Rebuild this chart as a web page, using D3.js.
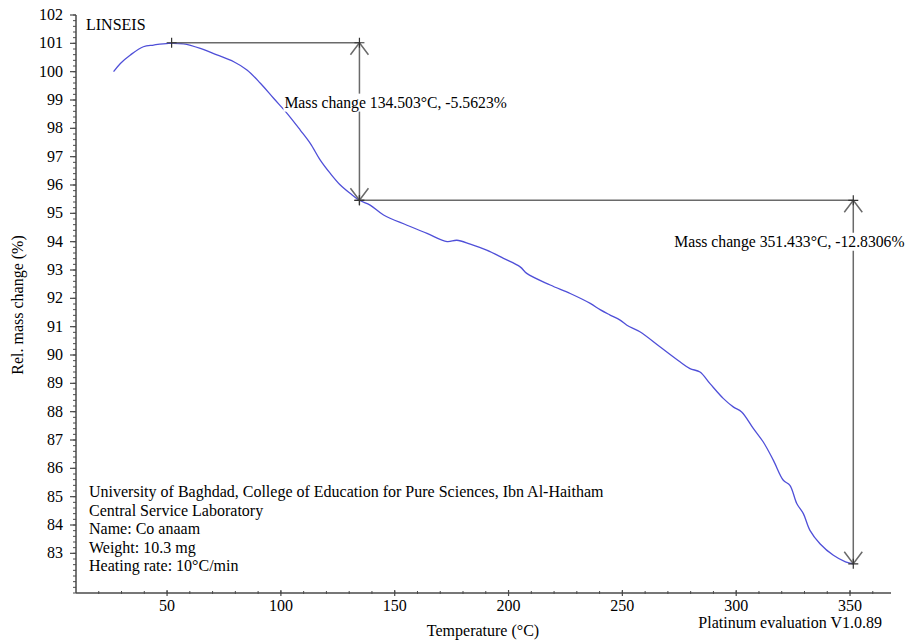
<!DOCTYPE html>
<html>
<head>
<meta charset="utf-8">
<script src="https://cdn.jsdelivr.net/npm/d3@7"></script>
<style>
  html, body { margin: 0; padding: 0; background: #fff; }
  svg { display: block; font-family: "Liberation Serif", "DejaVu Serif", serif; }
</style>
</head>
<body>
<svg id="chart" width="906" height="641"></svg>
<script>
// ---- Data ----
const temperature = [26.5, 29.5, 33.9, 39.6, 44.1, 50.7, 57.3, 64.6, 71.9, 79.3, 85.1, 91.0, 96.8, 102.7, 108.5, 112.9, 117.3, 121.7, 126.1, 130.5, 134.5, 139.2, 145.1, 155.4, 164.2, 173.0, 177.3, 183.2, 190.4, 197.8, 205.1, 208.0, 218.3, 227.1, 235.9, 240.2, 244.6, 249.0, 252.0, 257.7, 266.5, 275.3, 279.7, 284.1, 288.5, 294.3, 298.7, 302.4, 307.5, 311.9, 316.3, 320.7, 323.6, 326.6, 329.5, 332.4, 336.8, 342.7, 348.0, 351.4];
const massChange  = [100.0, 100.29, 100.59, 100.88, 100.94, 101.0, 100.98, 100.82, 100.59, 100.35, 100.06, 99.59, 99.06, 98.53, 97.94, 97.47, 96.88, 96.41, 96.0, 95.70, 95.46, 95.29, 94.94, 94.58, 94.29, 94.0, 94.05, 93.91, 93.70, 93.41, 93.11, 92.88, 92.47, 92.17, 91.82, 91.60, 91.41, 91.23, 91.05, 90.82, 90.29, 89.76, 89.52, 89.40, 88.99, 88.47, 88.17, 87.99, 87.41, 86.93, 86.29, 85.58, 85.40, 84.76, 84.40, 83.81, 83.34, 82.93, 82.70, 82.63];

const yTicks = [83, 84, 85, 86, 87, 88, 89, 90, 91, 92, 93, 94, 95, 96, 97, 98, 99, 100, 101, 102];
const xTicks = [50, 100, 150, 200, 250, 300, 350];

// Evaluation steps: [temperature, mass]
const stepPoints = [[52, 101.02], [134.503, 95.46], [351.433, 82.63]];
const stepLabels = ["Mass change 134.503°C, -5.5623%", "Mass change 351.433°C, -12.8306%"];

const infoLines = [
  "University of Baghdad, College of Education for Pure Sciences, Ibn Al-Haitham",
  "Central Service Laboratory",
  "Name: Co anaam",
  "Weight: 10.3 mg",
  "Heating rate: 10°C/min"
];

// ---- Layout ----
const svg = d3.select("#chart");
const x = d3.scaleLinear().domain([10, 368]).range([76, 891]);
const y = d3.scaleLinear().domain([81.6, 102]).range([593, 15]);
const axisColor = "#4a4a4a";
const annColor = "#6a6a6a";
const fontSize = 16;

// Y axis
const yMinor = d3.range(81.6, 102.0001, 0.2).map(v => +v.toFixed(1));
svg.append("g").selectAll("line").data(yMinor).join("line")
  .attr("x1", x.range()[0] - 3).attr("x2", x.range()[0])
  .attr("y1", d => y(d)).attr("y2", d => y(d))
  .attr("stroke", axisColor).attr("stroke-width", 1);
svg.append("g").selectAll("line").data(yTicks).join("line")
  .attr("x1", x.range()[0] - 6).attr("x2", x.range()[0])
  .attr("y1", d => y(d)).attr("y2", d => y(d))
  .attr("stroke", axisColor).attr("stroke-width", 1.2);
svg.append("g").selectAll("text").data(yTicks).join("text")
  .attr("x", 63).attr("y", d => y(d) + 5)
  .attr("text-anchor", "end").attr("font-size", fontSize)
  .text(d => d);
svg.append("line")
  .attr("x1", x.range()[0]).attr("x2", x.range()[0])
  .attr("y1", y(102)).attr("y2", y.range()[0])
  .attr("stroke", axisColor).attr("stroke-width", 1.5);

// X axis
const xMinor = d3.range(20, 368, 10);
svg.append("g").selectAll("line").data(xMinor).join("line")
  .attr("x1", d => x(d)).attr("x2", d => x(d))
  .attr("y1", y.range()[0] - 2).attr("y2", y.range()[0] + 1)
  .attr("stroke", axisColor).attr("stroke-width", 1);
svg.append("g").selectAll("line").data(xTicks).join("line")
  .attr("x1", d => x(d)).attr("x2", d => x(d))
  .attr("y1", y.range()[0] - 3).attr("y2", y.range()[0] + 3)
  .attr("stroke", axisColor).attr("stroke-width", 1.2);
svg.append("g").selectAll("text").data(xTicks).join("text")
  .attr("x", d => x(d)).attr("y", 611)
  .attr("text-anchor", "middle").attr("font-size", fontSize)
  .text(d => d);
svg.append("line")
  .attr("x1", x.range()[0]).attr("x2", x.range()[1])
  .attr("y1", y.range()[0]).attr("y2", y.range()[0])
  .attr("stroke", axisColor).attr("stroke-width", 1.5);

// Axis titles
svg.append("text").attr("x", 483).attr("y", 636)
  .attr("text-anchor", "middle").attr("font-size", fontSize)
  .text("Temperature (°C)");
svg.append("text").attr("transform", "translate(23,305) rotate(-90)")
  .attr("text-anchor", "middle").attr("font-size", fontSize)
  .text("Rel. mass change (%)");
svg.append("text").attr("x", 882).attr("y", 628)
  .attr("text-anchor", "end").attr("font-size", fontSize)
  .text("Platinum evaluation V1.0.89");
svg.append("text").attr("x", 86).attr("y", 30)
  .attr("font-size", fontSize).text("LINSEIS");

// Info block
svg.append("g").selectAll("text").data(infoLines).join("text")
  .attr("x", 89).attr("y", (d, i) => 497 + i * 18.5)
  .attr("font-size", fontSize).text(d => d);

// Curve
const pts = temperature.map((t, i) => [t, massChange[i]]);
svg.append("path").datum(pts)
  .attr("fill", "none").attr("stroke", "#4f4fd8").attr("stroke-width", 1.3)
  .attr("d", d3.line().x(d => x(d[0])).y(d => y(d[1])).curve(d3.curveCatmullRom));

// Annotations
const ann = svg.append("g").attr("stroke", annColor).attr("stroke-width", 1.5).attr("fill", "none");
function cross(px, py) {
  ann.append("path").attr("stroke", "#333").attr("stroke-width", 1.2)
    .attr("d", `M${px - 5},${py}H${px + 5}M${px},${py - 5}V${py + 5}`);
}
function arrowUp(px, py) {
  ann.append("path").attr("d", `M${px - 9},${py + 12}L${px},${py}L${px + 9},${py + 12}`);
}
function arrowDown(px, py) {
  ann.append("path").attr("d", `M${px - 9},${py - 12}L${px},${py}L${px + 9},${py - 12}`);
}
for (let i = 0; i < stepPoints.length - 1; i++) {
  const [t0, m0] = stepPoints[i];
  const [t1, m1] = stepPoints[i + 1];
  const xa = x(t0), ya = y(m0), xb = x(t1), yb = y(m1);
  ann.append("line").attr("x1", xa).attr("x2", xb).attr("y1", ya).attr("y2", ya);
  ann.append("line").attr("x1", xb).attr("x2", xb).attr("y1", ya).attr("y2", yb);
  arrowUp(xb, ya);
  arrowDown(xb, yb);
  cross(xa, ya);
  cross(xb, ya);
  cross(xb, yb);
}

// Step labels with white background
const labelOffsets = [[-75, 0.38], [-179, 0.114]]; // [dx from line, fraction down the vertical]
stepLabels.forEach((txt, i) => {
  const [t1, m1] = stepPoints[i + 1];
  const m0 = stepPoints[i][1];
  const lx = x(t1) + labelOffsets[i][0];
  const ly = y(m0) + (y(m1) - y(m0)) * labelOffsets[i][1];
  const g = svg.append("g");
  const rect = g.append("rect").attr("fill", "#fff");
  const t = g.append("text").attr("x", lx).attr("y", ly + 5)
    .attr("font-size", 15.7).text(txt);
  const bb = t.node().getBBox();
  rect.attr("x", bb.x - 1).attr("y", bb.y).attr("width", bb.width + 2).attr("height", bb.height);
});
</script>
</body>
</html>
